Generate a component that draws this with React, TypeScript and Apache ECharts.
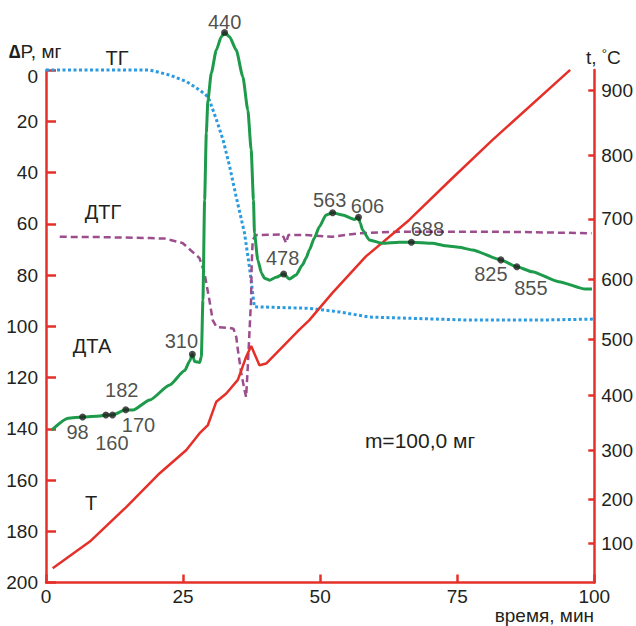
import React, { useEffect, useRef } from "react";
import * as echarts from "echarts";

// ---- TG (mass loss, mg) ----
const TG_TIME = [0, 18.9, 22.6, 25.7, 28.0, 29.2, 29.8, 31.1, 32.3, 33.5, 34.7, 36.2, 37.1, 38.0, 48.0, 53.5, 58.9, 77.1, 89.9, 100];
const TG_VALUE = [0, 0, 2.0, 4.6, 7.8, 9.8, 11.7, 19.5, 27.3, 37.7, 49.6, 63.6, 76.8, 92.4, 93.0, 94.4, 96.4, 97.6, 97.6, 97.2];

// ---- DTG ----
const DTG_TIME = [2.5, 9.8, 18.9, 21.7, 24.9, 28.0, 28.9, 29.8, 30.4, 31.1, 33.5, 34.2, 34.5, 34.7, 35.0, 35.6, 36.2, 36.5, 36.8, 37.1, 37.4, 37.5, 37.7, 38.3, 43.1, 43.8, 44.2, 47.4, 52.2, 57.1, 64.4, 75.3, 86.2, 99.5];
const DTG_VALUE = [65.1, 65.2, 65.6, 65.8, 67.5, 73.4, 79.2, 89.8, 97.6, 100.3, 100.7, 101.0, 103.0, 104.2, 109.3, 118.2, 124.9, 127.6, 115.9, 102.6, 89.8, 76.9, 66.3, 64.4, 64.2, 67.5, 64.4, 64.4, 65.1, 63.7, 63.1, 63.1, 63.2, 63.7];

// ---- DTA ----
const DTA_TIME = [1.04, 4.06, 6.68, 9.82, 10.92, 12.13, 14.55, 15.88, 18.92, 22.56, 25.29, 26.2, 26.69, 27.11, 28.02, 28.33, 28.62, 28.93, 29.24, 29.53, 30.15, 31.06, 31.97, 32.57, 33.48, 34.69, 35.9, 36.81, 37.42, 37.84, 38.02, 38.62, 39.3, 39.85, 40.75, 41.97, 43.35, 44.39, 45.61, 46.76, 47.43, 48.03, 48.94, 49.85, 51.07, 52.27, 54.09, 56.22, 57.0, 57.31, 57.73, 58.95, 61.37, 64.4, 66.64, 70.46, 72.9, 75.32, 77.74, 82.96, 85.87, 88.66, 93.51, 98.37, 99.57];
const DTA_VALUE = [140.5, 135.9, 135.4, 135.0, 134.6, 134.6, 132.6, 132.7, 128.8, 122.9, 117.3, 113.6, 110.9, 113.8, 114.1, 111.9, 89.8, 50.7, 24.6, 11.7, 1.2, -7.8, -13.0, -14.6, -13.0, -7.8, 2.6, 15.6, 31.2, 50.7, 63.6, 74.1, 79.2, 81.3, 82.0, 80.9, 79.6, 81.6, 80.0, 76.1, 73.4, 70.2, 65.6, 61.2, 56.6, 55.7, 56.6, 58.3, 57.5, 59.7, 62.4, 66.3, 67.6, 67.2, 67.2, 67.6, 68.6, 69.2, 70.2, 74.1, 76.8, 78.7, 82.6, 85.5, 85.5];
const DOT_INDEX = [2, 4, 5, 6, 12, 23, 36, 45, 48, 54, 59, 60];
const DOT_LABEL = ["98", "160", "170", "182", "310", "440", "478", "563", "606", "688", "825", "855"];

// ---- T (temperature, °C) ----
const T_TIME = [1.22, 8.0, 14.68, 20.74, 25.6, 28.02, 29.53, 31.06, 32.88, 34.99, 36.51, 37.42, 38.93, 40.15, 46.21, 48.03, 52.2, 58.35, 66.2, 73.8, 81.4, 95.6];
const T_VALUE = [43, 104, 183, 253, 300, 331, 346, 389, 404, 428, 469, 488, 454, 457, 516, 532, 577, 638, 698, 762, 824, 932];

// ---- axis ticks ----
const X_MIN = 0, X_MAX = 100, X_STEP = 25;
const P_MIN = 0, P_MAX = 200, P_STEP = 20;
const TEMP_TICKS = [100, 200, 300, 400, 500, 600, 700, 800, 900];
// non-linear temperature scale of the original (share of axis height)
const TEMP_SCALE = [0.0765, 0.1623, 0.2585, 0.3645, 0.4745, 0.5916, 0.7093, 0.8328, 0.9596];

// label offsets (style only)
const DOT_LABEL_OFFSET = [[-5, 15], [6, 28], [26, 10], [-4, -20], [-11, -13], [0, -11], [-1, -16], [-3, -13], [9, -11], [16, -13], [-10, 14], [14, 21]];

function tempToScale(t: number): number {
  const n = TEMP_TICKS.length;
  let i = 0;
  if (t <= TEMP_TICKS[0]) i = 0;
  else if (t >= TEMP_TICKS[n - 1]) i = n - 2;
  else {
    while (i < n - 2 && t > TEMP_TICKS[i + 1]) i++;
  }
  const t0 = TEMP_TICKS[i], t1 = TEMP_TICKS[i + 1];
  const p0 = TEMP_SCALE[i], p1 = TEMP_SCALE[i + 1];
  return p0 + ((t - t0) * (p1 - p0)) / (t1 - t0);
}

const RED = "#e5302a";
const GREEN = "#1d9a4a";
const BLUE = "#2a9be0";
const PURPLE = "#9c4d8e";
const INK = "#231f20";
const FONT = "'Liberation Sans', Arial, sans-serif";

export default function App() {
  const ref = useRef<HTMLDivElement>(null);
  useEffect(() => {
    if (!ref.current) return;
    const chart = echarts.init(ref.current, undefined, { renderer: "svg" });
    const tickPos = TEMP_TICKS.map(tempToScale);
    const option: any = {
      animation: false,
      textStyle: { fontFamily: FONT },
      grid: { left: 46, right: 40, top: 70, bottom: 43.5 },
      xAxis: {
        type: "value",
        min: X_MIN,
        max: X_MAX,
        interval: X_STEP,
        axisLine: { onZero: false, lineStyle: { color: RED, width: 2.5 } },
        axisTick: { inside: true, length: 8, lineStyle: { color: RED, width: 2.5 } },
        axisLabel: { color: INK, fontSize: 19, lineHeight: 18, margin: 5, fontFamily: FONT },
        splitLine: { show: false },
      },
      yAxis: [
        {
          type: "value",
          inverse: true,
          min: P_MIN,
          max: P_MAX,
          interval: P_STEP,
          axisLine: { show: true, onZero: false, lineStyle: { color: RED, width: 2.5 } },
          axisTick: { show: true, inside: true, length: 10, lineStyle: { color: RED, width: 2.5 } },
          axisLabel: {
            color: INK,
            fontSize: 19,
            margin: 8,
            fontFamily: FONT,
            formatter: (v: number) => (v === P_MIN ? "{z|" + v + "}" : String(v)),
            rich: { z: { color: INK, fontSize: 19, fontFamily: FONT, padding: [12, 0, 0, 0] } },
          },
          splitLine: { show: false },
        },
        {
          type: "value",
          position: "right",
          min: 0,
          max: 1,
          axisLine: { show: true, onZero: false, lineStyle: { color: RED, width: 2.5 } },
          axisTick: { show: true, inside: true, length: 6, customValues: tickPos, lineStyle: { color: RED, width: 2.5 } },
          axisLabel: {
            color: INK,
            fontSize: 19,
            margin: 7,
            fontFamily: FONT,
            customValues: tickPos,
            formatter: (v: number) => {
              const i = tickPos.findIndex((p) => Math.abs(p - v) < 1e-6);
              return i >= 0 ? String(TEMP_TICKS[i]) : "";
            },
          },
          splitLine: { show: false },
        },
      ],
      series: [
        {
          type: "line",
          name: "ТГ",
          yAxisIndex: 0,
          clip: false,
          showSymbol: false,
          data: TG_TIME.map((t, i) => [t, TG_VALUE[i]]),
          lineStyle: { color: BLUE, width: 3, type: [3, 2.5] },
          z: 2,
        },
        {
          type: "line",
          name: "ДТГ",
          yAxisIndex: 0,
          clip: false,
          showSymbol: false,
          data: DTG_TIME.map((t, i) => [t, DTG_VALUE[i]]),
          lineStyle: { color: PURPLE, width: 2.5, type: [7, 4] },
          z: 3,
        },
        {
          type: "line",
          name: "T",
          yAxisIndex: 1,
          clip: false,
          showSymbol: false,
          data: T_TIME.map((t, i) => [t, tempToScale(T_VALUE[i])]),
          lineStyle: { color: RED, width: 2.5 },
          z: 4,
        },
        {
          type: "line",
          name: "ДТА",
          yAxisIndex: 0,
          clip: false,
          showSymbol: false,
          smooth: 0.2,
          smoothMonotone: "x",
          data: DTA_TIME.map((t, i) => [t, DTA_VALUE[i]]),
          lineStyle: { color: GREEN, width: 3 },
          z: 5,
        },
        {
          type: "scatter",
          yAxisIndex: 0,
          clip: false,
          symbolSize: 7,
          itemStyle: { color: INK },
          z: 6,
          data: DOT_INDEX.map((idx, k) => ({
            value: [DTA_TIME[idx], DTA_VALUE[idx]],
            label: {
              show: true,
              position: "inside",
              offset: DOT_LABEL_OFFSET[k],
              formatter: DOT_LABEL[k],
              color: INK,
              textBorderWidth: 0,
              textBorderColor: "transparent",
              fontSize: 20,
              fontFamily: FONT,
            },
          })),
        },
      ],
      graphic: [
        {
          type: "text",
          x: 9,
          y: 51,
          style: {
            text: "{d|∆}P, мг",
            fill: INK,
            fontSize: 19,
            fontFamily: FONT,
            verticalAlign: "middle",
            rich: { d: { fontWeight: "bold", fontSize: 19, fontFamily: FONT, fill: INK } },
          },
        },
        { type: "text", x: 117, y: 58, style: { text: "ТГ", fill: INK, fontSize: 20, fontFamily: FONT, align: "center", verticalAlign: "middle" } },
        { type: "text", x: 103, y: 212, style: { text: "ДТГ", fill: INK, fontSize: 20, fontFamily: FONT, align: "center", verticalAlign: "middle" } },
        { type: "text", x: 92, y: 346, style: { text: "ДТА", fill: INK, fontSize: 20, fontFamily: FONT, align: "center", verticalAlign: "middle" } },
        { type: "text", x: 91, y: 503, style: { text: "Т", fill: INK, fontSize: 20, fontFamily: FONT, align: "center", verticalAlign: "middle" } },
        { type: "text", x: 420, y: 440, style: { text: "m=100,0 мг", fill: INK, fontSize: 21, fontFamily: FONT, align: "center", verticalAlign: "middle" } },
        {
          type: "text",
          x: 586,
          y: 57,
          style: {
            text: "t, {s|°}C",
            fill: INK,
            fontSize: 19,
            fontFamily: FONT,
            verticalAlign: "middle",
            rich: { s: { fontSize: 13, fontFamily: FONT, fill: INK, verticalAlign: "top", padding: [0, 0, 8, 0] } },
          },
        },
        { type: "text", x: 594, y: 615, style: { text: "время, мин", fill: INK, fontSize: 19, lineHeight: 18, fontFamily: FONT, align: "right", verticalAlign: "middle" } },
      ],
    };
    chart.setOption(option);
    return () => chart.dispose();
  }, []);
  return (
    <div
      ref={ref}
      style={{ position: "absolute", left: 0, top: 0, width: 636, height: 626, background: "#fff" }}
    />
  );
}
